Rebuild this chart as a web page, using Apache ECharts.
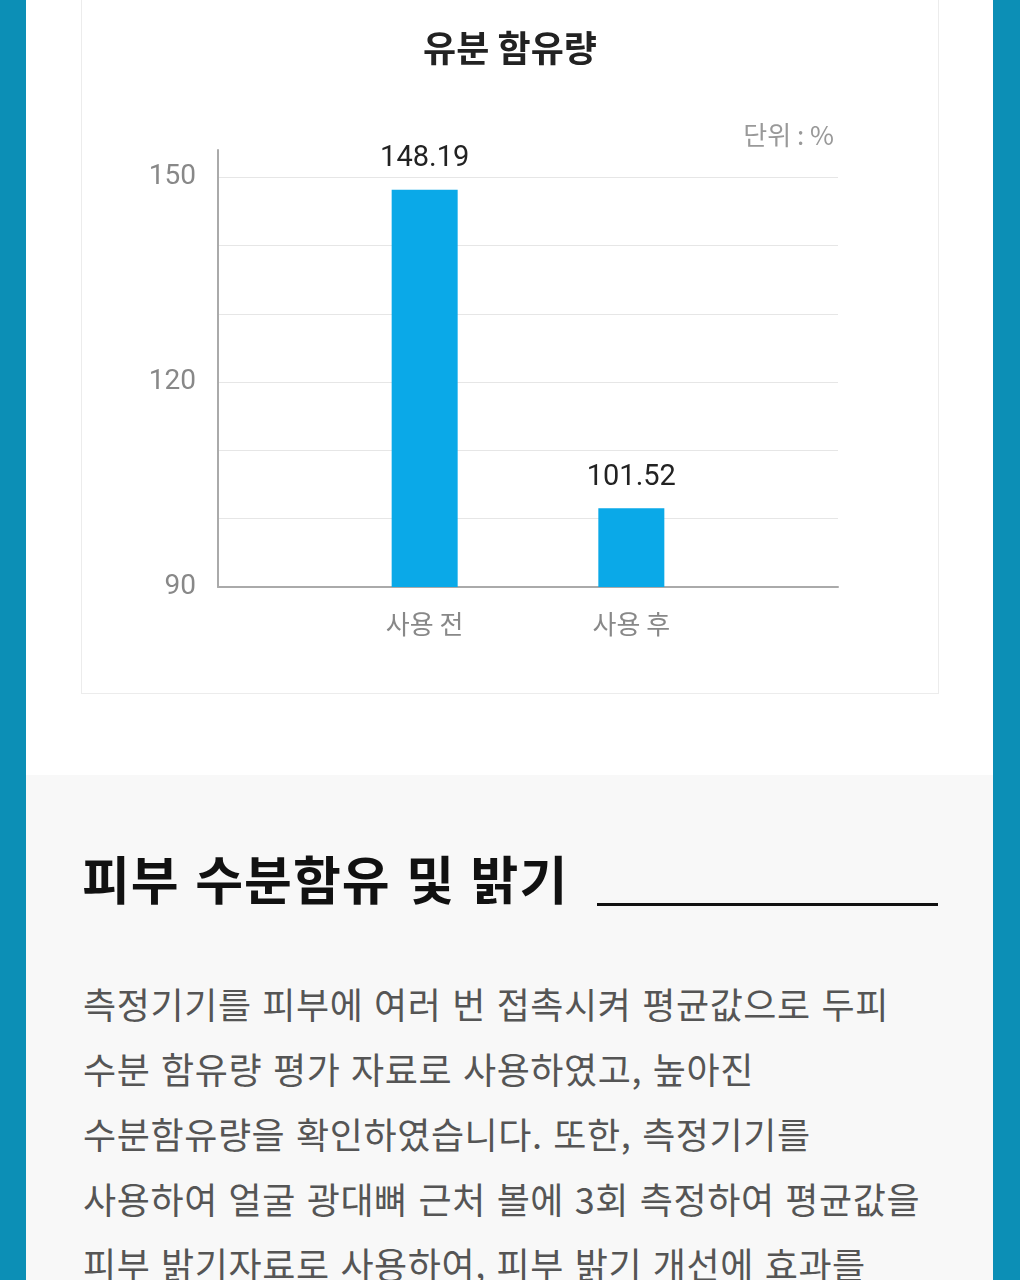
<!DOCTYPE html>
<html lang="ko">
<head>
<meta charset="utf-8">
<title>유분 함유량</title>
<script src="https://cdn.jsdelivr.net/npm/echarts@6/dist/echarts.min.js"></script>
<style>
  html, body {
    margin: 0;
    padding: 0;
    width: 1020px;
    height: 1280px;
    overflow: hidden;
    background: #0c8fb6;
    font-family: "Noto Sans CJK KR", "Noto Sans", sans-serif;
  }

  .page {
    position: absolute;
    left: 26px;
    top: 0;
    width: 967px;
    height: 1280px;
    background: #fff;
  }

  .panel {
    position: absolute;
    left: 55px;
    top: -10px;
    width: 856px;
    height: 702px;
    border: 1px solid #ececec;
    background: #fff;
  }

  .section {
    position: absolute;
    left: 0;
    top: 775px;
    width: 967px;
    height: 505px;
    background: #f8f8f8;
  }

  .section h2 {
    position: absolute;
    left: 56px;
    top: 72px;
    margin: 0;
    font-size: 52px;
    letter-spacing: 1px;
    font-weight: bold;
    color: #111;
    line-height: 1.2;
  }

  .section .rule {
    position: absolute;
    left: 571px;
    top: 128px;
    width: 341px;
    height: 3px;
    background: #111;
  }

  .section p {
    position: absolute;
    left: 57px;
    top: 196px;
    margin: 0;
    font-size: 36px;
    letter-spacing: 0.6px;
    line-height: 65px;
    color: #555;
    white-space: nowrap;
  }

  #chart {
    position: absolute;
    left: 0;
    top: 0;
    width: 1020px;
    height: 700px;
  }
</style>
</head>
<body>
<div class="page">
  <div class="panel"></div>
  <div class="section">
    <h2>피부 수분함유 및 밝기</h2>
    <div class="rule"></div>
    <p>측정기기를 피부에 여러 번 접촉시켜 평균값으로 두피<br>수분 함유량 평가 자료로 사용하였고, 높아진<br>수분함유량을 확인하였습니다. 또한, 측정기기를<br>사용하여 얼굴 광대뼈 근처 볼에 3회 측정하여 평균값을<br>피부 밝기자료로 사용하여, 피부 밝기 개선에 효과를</p>
  </div>
</div>
<div id="chart"></div>

<script>
  // 데이터
  const categories = ['사용 전', '사용 후'];
  const oilValues = [148.19, 101.52];
  const yTickLabels = [90, 120, 150];

  // 양 끝에 빈 칸을 두어 막대를 가운데로 모은다
  const axisData = [''].concat(categories, ['']);
  const barData = ['-'].concat(oilValues, ['-']);

  const chart = echarts.init(document.getElementById('chart'));
  chart.setOption({
    animation: false,
    title: [
      {
        text: '유분 함유량',
        left: 'center',
        top: 25,
        textStyle: {
          fontFamily: '"Noto Sans CJK KR"',
          fontSize: 36,
          fontWeight: 'bold',
          color: '#222',
        },
      },
      {
        text: '단위 : %',
        right: 181,
        top: 117,
        textStyle: {
          fontFamily: '"Noto Sans CJK KR"',
          fontSize: 26,
          fontWeight: 'normal',
          color: '#999',
        },
      },
    ],
    grid: {
      left: 218,
      right: 182,
      top: 150,
      bottom: 113,
      containLabel: false,
    },
    xAxis: {
      type: 'category',
      data: axisData,
      boundaryGap: false,
      axisTick: {show: false},
      axisLine: {lineStyle: {color: '#aaa', width: 2}},
      axisLabel: {
        interval: 0,
        margin: 24,
        fontSize: 26,
        color: '#888',
        fontFamily: '"Noto Sans CJK KR"',
      },
    },
    yAxis: {
      type: 'value',
      min: 90,
      max: 154,
      interval: 10,
      axisLine: {show: true, lineStyle: {color: '#aaa', width: 2}},
      axisTick: {show: false},
      splitLine: {
        showMaxLine: false,
        lineStyle: {color: '#e6e6e6', width: 1},
      },
      axisLabel: {
        margin: 22,
        fontSize: 28,
        color: '#888',
        fontFamily: 'Roboto, "Noto Sans CJK KR"',
        showMaxLabel: false,
        formatter: (v) => (yTickLabels.indexOf(v) >= 0 ? String(v) : ''),
      },
    },
    series: [
      {
        type: 'bar',
        data: barData,
        barWidth: 66,
        itemStyle: {color: '#0aa9e8'},
        label: {
          show: true,
          position: 'top',
          distance: 16,
          fontSize: 29,
          color: '#222',
          fontFamily: 'Roboto, "Noto Sans CJK KR"',
          formatter: (p) => p.value.toFixed(2),
        },
      },
    ],
  });
</script>
</body>
</html>
